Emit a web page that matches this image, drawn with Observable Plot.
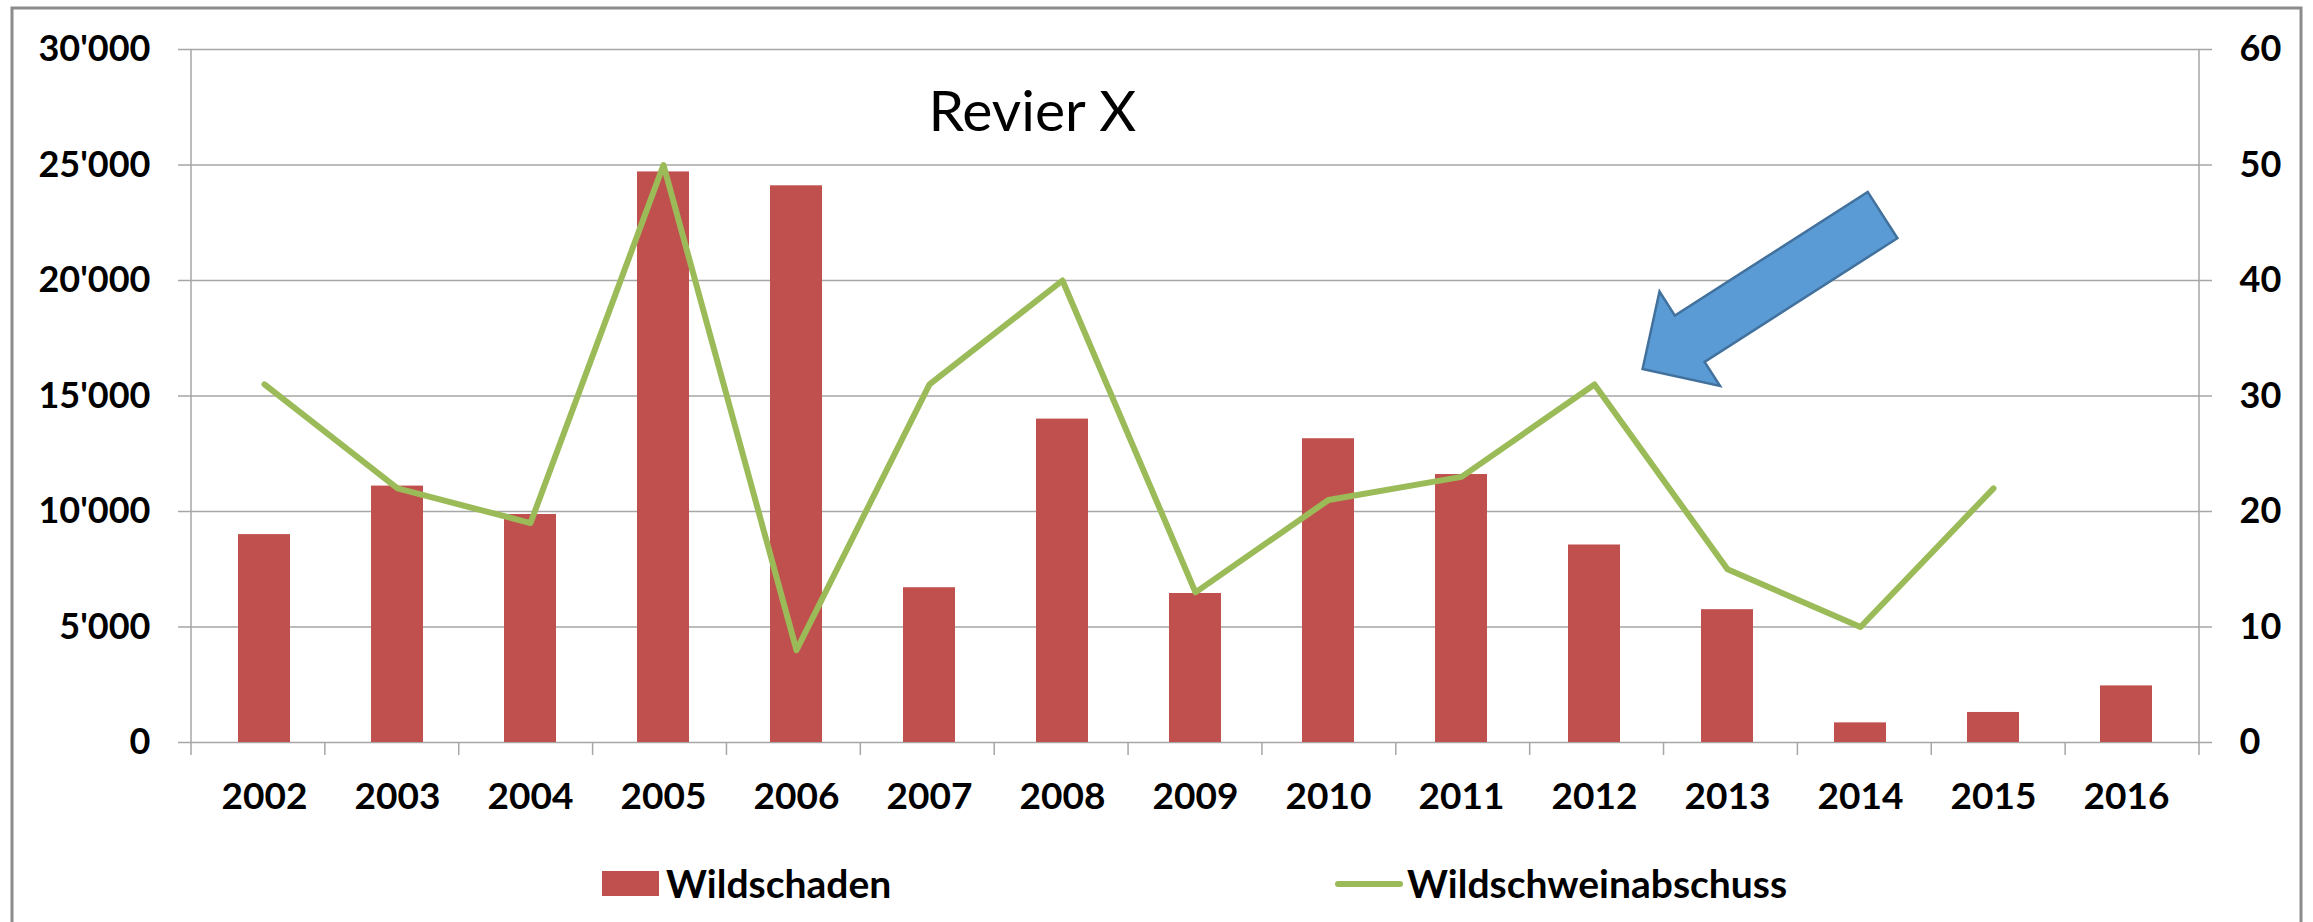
<!DOCTYPE html>
<html>
<head>
<meta charset="utf-8">
<script src="https://cdn.jsdelivr.net/npm/d3@7"></script>
<script src="https://cdn.jsdelivr.net/npm/@observablehq/plot@0.6"></script>
<style>
  html, body { margin: 0; padding: 0; background: #fff; }
  #chart { width: 2313px; height: 922px; overflow: hidden; }
</style>
</head>
<body>
<div id="chart"></div>
<script>
// ---- data ----
const years = ["2002","2003","2004","2005","2006","2007","2008","2009","2010","2011","2012","2013","2014","2015","2016"];
const wildschaden = [9000, 11100, 9870, 24700, 24100, 6700, 14000, 6450, 13150, 11600, 8550, 5750, 850, 1300, 2450];
const wildschweinabschuss = [31, 22, 19, 50, 8, 31, 40, 13, 21, 23, 31, 15, 10, 22, null];
const leftTicks = [0, 5000, 10000, 15000, 20000, 25000, 30000];
const rightTicks = [0, 10, 20, 30, 40, 50, 60];
const seriesNames = ["Wildschaden", "Wildschweinabschuss"];
const title = "Revier X";
const arrowTarget = {year: "2012", value: 31};

// ---- layout / style ----
const W = 2313, H = 922;
const mL = 191, mR = 114, mT = 49, mB = 180;
const plotW = W - mL - mR, plotH = H - mT - mB;
const ratio = 30000 / 60;
const barColor = "#C0504D", lineColor = "#9BBB59", gridColor = "#A6A6A6";
const font = "Lato, 'Open Sans', sans-serif";

const fmt = d3.formatLocale({decimal: ".", thousands: "'", grouping: [3], currency: ["", ""]}).format(",");

const barData = years.map((y, i) => ({year: y, value: wildschaden[i]}));
const lineData = years.map((y, i) => ({year: y, value: wildschweinabschuss[i]})).filter(d => d.value != null);

const step = plotW / years.length;

function decor() {
  const g = d3.create("svg:g");
  // vertical axis lines
  for (const x of [mL, W - mR]) {
    g.append("line").attr("x1", x).attr("x2", x).attr("y1", mT).attr("y2", H - mB + 13)
      .attr("stroke", gridColor).attr("stroke-width", 1.5);
  }
  // x tick marks at category boundaries
  for (let k = 1; k < years.length; k++) {
    const x = mL + k * step;
    g.append("line").attr("x1", x).attr("x2", x).attr("y1", H - mB).attr("y2", H - mB + 13)
      .attr("stroke", gridColor).attr("stroke-width", 1.5);
  }
  // block arrow annotation pointing at target point
  const i = years.indexOf(arrowTarget.year);
  const px = mL + step * (i + 0.5);
  const py = mT + plotH * (1 - arrowTarget.value * ratio / 30000);
  const T = [px + 46, py - 15];
  const u = [0.842, -0.540], n = [0.540, 0.842];
  const P = (a, b) => [T[0] + a * u[0] + b * n[0], T[1] + a * u[1] + b * n[1]];
  const pts = [P(0, 0), P(56, 56), P(56, 27.5), P(285, 27.5), P(285, -27.5), P(56, -27.5), P(56, -56)];
  g.append("polygon").attr("points", pts.map(p => p.join(",")).join(" "))
    .attr("fill", "#5B9BD5").attr("stroke", "#41719C").attr("stroke-width", 2.5).attr("stroke-linejoin", "miter");
  // legend
  const ly = 884;
  g.append("rect").attr("x", 602).attr("y", ly - 13).attr("width", 57).attr("height", 25).attr("fill", barColor);
  g.append("text").attr("x", 666).attr("y", ly + 14).attr("font-size", 39).attr("font-weight", "bold")
    .attr("text-anchor", "start").attr("font-family", font).attr("fill", "#000").text(seriesNames[0]);
  g.append("line").attr("x1", 1338).attr("x2", 1400).attr("y1", ly).attr("y2", ly)
    .attr("stroke", lineColor).attr("stroke-width", 6).attr("stroke-linecap", "round");
  g.append("text").attr("x", 1407).attr("y", ly + 14).attr("font-size", 39).attr("font-weight", "bold")
    .attr("text-anchor", "start").attr("font-family", font).attr("fill", "#000").text(seriesNames[1]);
  // outer border
  g.append("rect").attr("x", 12).attr("y", 8).attr("width", 2289).attr("height", 1000)
    .attr("fill", "none").attr("stroke", "#8C8C8C").attr("stroke-width", 3);
  return g.node();
}

const chart = Plot.plot({
  width: W, height: H,
  marginTop: mT, marginRight: mR, marginBottom: mB, marginLeft: mL,
  style: {fontFamily: font, background: "white", overflow: "visible", color: "#000"},
  x: {domain: years, paddingInner: 0.61, paddingOuter: 0.305, label: null},
  y: {domain: [0, 30000], label: null},
  marks: [
    Plot.ruleY(leftTicks, {stroke: gridColor, strokeWidth: 1.5, insetLeft: -13, insetRight: -13}),
    Plot.barY(barData, {x: "year", y: "value", fill: barColor}),
    Plot.lineY(lineData, {x: "year", y: d => d.value * ratio, stroke: lineColor, strokeWidth: 6, strokeLinecap: "round", strokeLinejoin: "round"}),
    Plot.axisY(leftTicks, {anchor: "left", tickSize: 0, tickPadding: 41, tickFormat: fmt, fontSize: 36, fontWeight: "bold", label: null}),
    Plot.axisY(rightTicks.map(v => v * ratio), {anchor: "right", tickSize: 0, tickPadding: 40, tickFormat: d => String(d / ratio), fontSize: 36, fontWeight: "bold", label: null}),
    Plot.axisX({tickSize: 0, tickPadding: 40, fontSize: 37, fontWeight: "bold", label: null}),
    Plot.text([title], {text: d => d, frameAnchor: "top-left", dx: 737, dy: 81, lineAnchor: "bottom", textAnchor: "start", fontSize: 57, fill: "#000", fontWeight: "normal"}),
    decor
  ]
});
document.getElementById("chart").appendChild(chart);
</script>
</body>
</html>
